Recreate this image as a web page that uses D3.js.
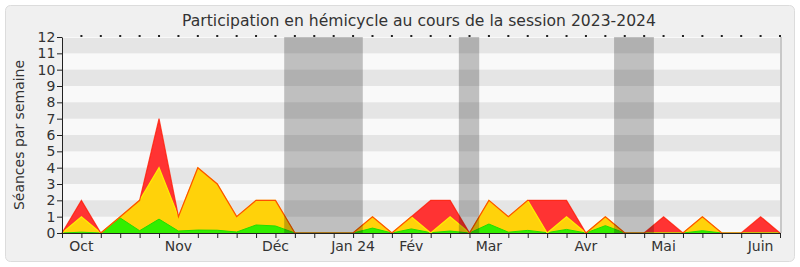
<!DOCTYPE html>
<html>
<head>
<meta charset="utf-8">
<script src="https://cdn.jsdelivr.net/npm/d3@7"></script>
<style>
  body { margin: 0; background: #ffffff; }
  text { font-family: "DejaVu Sans", sans-serif; fill: #333333; }
</style>
</head>
<body>
<script>
// semaines de la session (index), une valeur par semaine
var semaines = d3.range(0, 38);

// séances au total (rouge), présences (jaune), interventions (vert)
var totaal = [0, 2, 0, 1, 2, 7, 1, 4, 3, 1, 2, 2, 0, 0, 0, 0, 1, 0, 1, 2, 2, 0, 2, 1, 2, 2, 2, 0, 1, 0, 0, 1, 0, 1, 0, 0, 1, 0];
var geel   = [0, 1, 0, 1, 2, 4, 1, 4, 3, 1, 2, 2, 0, 0, 0, 0, 1, 0, 1, 0, 1, 0, 2, 1, 2, 0, 1, 0, 1, 0, 0, 0, 0, 1, 0, 0, 0, 0];
var groen  = [0, 0.05, 0, 0.92, 0.14, 0.85, 0.12, 0.18, 0.17, 0.06, 0.49, 0.43, 0, 0, 0, 0, 0.3, 0, 0.25, 0.02, 0.12, 0, 0.55, 0.05, 0.16, 0.02, 0.22, 0, 0.45, 0, 0, 0, 0, 0.14, 0, 0, 0, 0];

// vakanties (in weken)
var vakantieBegin = [11.45, 20.45, 28.45];
var vakantieEinde = [15.5, 21.5, 30.5];

// maanden op de x-as
var maandWeek = [1, 6, 11, 15, 18, 22, 27, 31, 36];
var maandNaam = ["Oct", "Nov", "Déc", "Jan 24", "Fév", "Mar", "Avr", "Mai", "Juin"];

var yTicks = d3.range(0, 13);

var breedte = 800, hoogte = 267;
var marge = {links: 62, rechts: 20, boven: 37, beneden: 34};

var svg = d3.select("body").append("svg")
    .attr("width", breedte)
    .attr("height", hoogte);

// paneel
svg.append("rect")
   .attr("x", 5.5).attr("y", 5.5)
   .attr("width", 789).attr("height", 256)
   .attr("rx", 5)
   .attr("fill", "#f0f0f0")
   .attr("stroke", "#dcdcdc");

var x = d3.scaleLinear().domain([0, 37]).range([marge.links, breedte - marge.rechts]);
var y = d3.scaleLinear().domain([0, 12]).range([hoogte - marge.beneden, marge.boven]);

// achtergrond met strepen
svg.append("rect")
   .attr("x", x(0)).attr("y", y(12))
   .attr("width", x(37) - x(0)).attr("height", y(0) - y(12))
   .attr("fill", "#f9f9f9");

svg.append("g").selectAll("rect")
   .data(yTicks.filter(function(d) { return d % 2 == 1; }))
   .enter().append("rect")
   .attr("x", x(0))
   .attr("y", function(d) { return y(d + 1) + (d == 11 ? 1 : 0); })
   .attr("width", x(37) - x(0))
   .attr("height", function(d) { return y(d) - y(d + 1) - (d == 11 ? 1 : 0); })
   .attr("fill", "#e5e5e5");

// rechterrand
svg.append("line")
   .attr("x1", x(37) + 1).attr("x2", x(37) + 1)
   .attr("y1", y(12)).attr("y2", y(0))
   .attr("stroke", "#c8c8c8").attr("stroke-width", 2);

// vlakken
function vlak(waarden) {
  return d3.area()
    .x(function(d, i) { return x(i); })
    .y0(y(0))
    .y1(function(d) { return y(d); })(waarden);
}
function lijn(waarden) {
  return d3.line()
    .x(function(d, i) { return x(i); })
    .y(function(d) { return y(d); })(waarden);
}

svg.append("path").attr("d", vlak(totaal)).attr("fill", "#ff3333");
svg.append("path").attr("d", vlak(geel)).attr("fill", "#ffd20a");
svg.append("path").attr("d", vlak(groen)).attr("fill", "#33ee00");

svg.append("path").attr("d", lijn(groen)).attr("fill", "none").attr("stroke", "#22dd00").attr("stroke-width", 1);
svg.append("path").attr("d", lijn(geel)).attr("fill", "none").attr("stroke", "#ffee00").attr("stroke-width", 1.2);
svg.append("path").attr("d", lijn(totaal)).attr("fill", "none").attr("stroke", "#ff1a00").attr("stroke-width", 1.2).attr("stroke-opacity", 0.75);

// vakanties
svg.append("g").selectAll("rect")
   .data(vakantieBegin)
   .enter().append("rect")
   .attr("x", function(d) { return x(d); })
   .attr("y", y(12))
   .attr("width", function(d, i) { return x(vakantieEinde[i]) - x(d); })
   .attr("height", y(0) - y(12))
   .attr("fill", "#000000")
   .attr("fill-opacity", 0.23);

// y-as
var asY = d3.axisLeft(y).tickValues(yTicks).tickSize(5).tickSizeOuter(0);
var gY = svg.append("g")
   .attr("transform", "translate(" + x(0) + ",0)")
   .call(asY);
gY.selectAll("text").style("font-size", "14px").attr("dx", "0.1em");
gY.selectAll("line, path").attr("stroke", "#222222");

// x-as (wekelijkse streepjes)
var asX = d3.axisBottom(x).tickValues(semaines).tickSize(5).tickSizeOuter(0).tickFormat("");
var gX = svg.append("g")
   .attr("transform", "translate(0," + y(0) + ")")
   .call(asX);
gX.selectAll("line, path").attr("stroke", "#222222");

// kleine streepjes boven
svg.append("g").selectAll("rect")
   .data(semaines.slice(1))
   .enter().append("rect")
   .attr("x", function(d) { return x(d) - 1; })
   .attr("y", y(12) - 2)
   .attr("width", 2).attr("height", 2)
   .attr("fill", "#222222");

// maanden
svg.append("g").selectAll("text")
   .data(maandWeek)
   .enter().append("text")
   .attr("x", function(d) { return x(d); })
   .attr("y", 251)
   .attr("text-anchor", "middle")
   .style("font-size", "14px")
   .text(function(d, i) { return maandNaam[i]; });

// titels
svg.append("text")
   .attr("x", 419).attr("y", 26)
   .attr("text-anchor", "middle")
   .style("font-size", "15.6px")
   .text("Participation en hémicycle au cours de la session 2023-2024");

svg.append("text")
   .attr("transform", "translate(24," + (y(6)) + ") rotate(-90)")
   .attr("text-anchor", "middle")
   .style("font-size", "14px")
   .text("Séances par semaine");
</script>
</body>
</html>
